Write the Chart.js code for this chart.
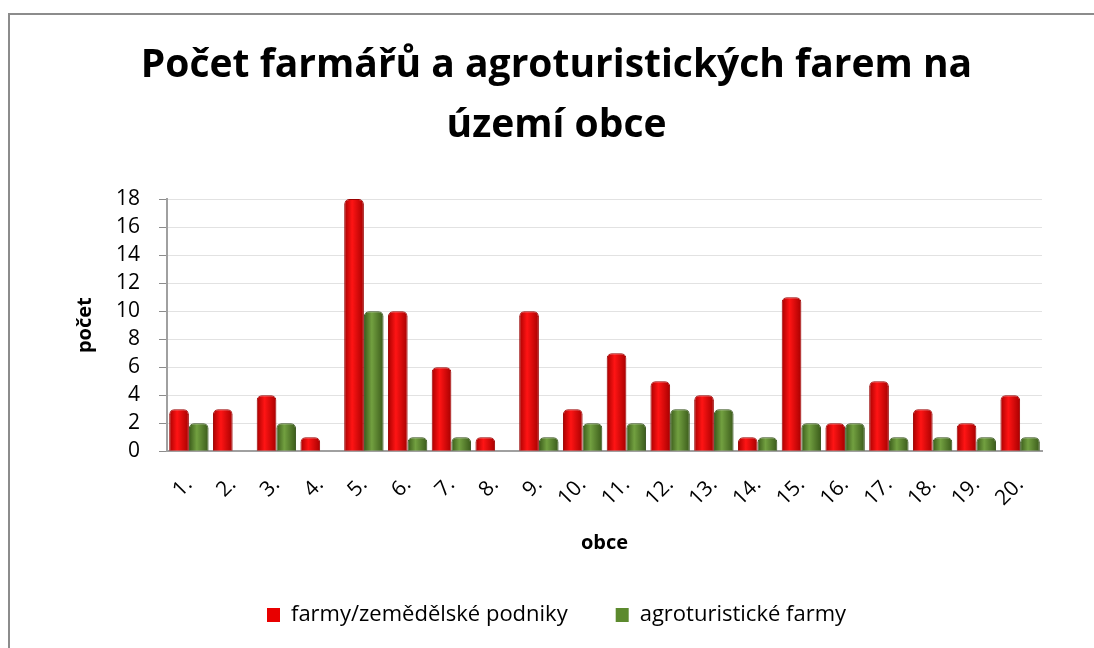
<!DOCTYPE html>
<html lang="cs">
<head>
<meta charset="UTF-8">
<title>Počet farmářů a agroturistických farem</title>
<style>
    html, body { margin: 0; background: #fff; overflow: hidden; }
    .box {
        position: absolute;
        left: 8px;
        top: 13px;
        width: 1200px;
        height: 700px;
        border-left: 2px solid #8c8c8c;
        border-top: 2px solid #8c8c8c;
        box-sizing: border-box;
    }
    .box canvas { display: block; }
</style>
</head>
<body>
<div class="box">
    <canvas id="chart" width="1084" height="633"></canvas>
</div>
<script src="https://cdn.jsdelivr.net/npm/chart.js@4"></script>
<script>
const obce = ['1.', '2.', '3.', '4.', '5.', '6.', '7.', '8.', '9.', '10.',
              '11.', '12.', '13.', '14.', '15.', '16.', '17.', '18.', '19.', '20.'];
const farmy = [3, 3, 4, 1, 18, 10, 6, 1, 10, 3, 7, 5, 4, 1, 11, 2, 5, 3, 2, 4];
const agroFarmy = [2, 0, 2, 0, 10, 1, 1, 0, 1, 2, 2, 3, 3, 1, 2, 2, 1, 1, 1, 1];
const yTicks = [0, 2, 4, 6, 8, 10, 12, 14, 16, 18];

const FONT = '"Open Sans", Lato, sans-serif';
const legendFill = ['#e80000', '#5c8a2e'];

// shaded fill so the bars look a bit like the cylinders in the original
function cylinder(dark, light) {
    return ctx => {
        const el = ctx.element;
        if (!el || !isFinite(el.x) || !el.width) return light;
        const g = ctx.chart.ctx.createLinearGradient(el.x - el.width / 2, 0, el.x + el.width / 2, 0);
        g.addColorStop(0, dark);
        g.addColorStop(0.4, light);
        g.addColorStop(1, dark);
        return g;
    };
}

const chart = new Chart(document.getElementById('chart'), {
    type: 'bar',
    data: {
        labels: obce,
        datasets: [
            {
                label: 'farmy/zemědělské podniky',
                data: farmy,
                backgroundColor: cylinder('#a80000', '#ff1414'),
                borderColor: '#9a0000',
                borderWidth: 1,
                borderRadius: { topLeft: 5, topRight: 5 },
                borderSkipped: 'bottom'
            },
            {
                label: 'agroturistické farmy',
                data: agroFarmy,
                backgroundColor: cylinder('#3a5a1a', '#72a040'),
                borderColor: '#34501a',
                borderWidth: 1,
                borderRadius: { topLeft: 5, topRight: 5 },
                borderSkipped: 'bottom'
            }
        ]
    },
    options: {
        responsive: false,
        animation: false,
        layout: { padding: { left: 61, right: 52, top: 10, bottom: 12 } },
        datasets: {
            bar: { categoryPercentage: 0.9, barPercentage: 1.0 }
        },
        plugins: {
            title: {
                display: true,
                text: ['Počet farmářů a agroturistických farem na', 'území obce'],
                color: '#000',
                font: { family: FONT, size: 39, weight: 'bold', lineHeight: 1.54 },
                padding: { top: 11, bottom: 43 }
            },
            legend: {
                position: 'bottom',
                labels: {
                    color: '#000',
                    font: { family: FONT, size: 22 },
                    boxWidth: 13,
                    boxHeight: 14,
                    padding: 48,
                    generateLabels: c => {
                        const items = Chart.defaults.plugins.legend.labels.generateLabels(c);
                        items.forEach((it, i) => {
                            it.fillStyle = legendFill[i];
                            it.lineWidth = 0;
                        });
                        return items;
                    }
                }
            },
            tooltip: { enabled: false }
        },
        scales: {
            x: {
                grid: { display: false },
                border: { color: '#a0a0a0', width: 2 },
                ticks: {
                    color: '#000',
                    font: { family: FONT, size: 21 },
                    autoSkip: false,
                    minRotation: 45,
                    maxRotation: 45,
                    padding: 13
                },
                title: {
                    display: true,
                    text: 'obce',
                    color: '#000',
                    font: { family: FONT, size: 20, weight: 'bold' },
                    padding: { top: 7, bottom: 1 }
                }
            },
            y: {
                min: 0,
                max: 18,
                afterBuildTicks: axis => { axis.ticks = yTicks.map(v => ({ value: v })); },
                grid: {
                    color: '#e2e2e2',
                    tickColor: '#8c8c8c',
                    tickLength: 8
                },
                border: { color: '#a0a0a0', width: 2 },
                ticks: {
                    color: '#000',
                    font: { family: FONT, size: 21 },
                    autoSkip: false,
                    padding: 19
                },
                title: {
                    display: true,
                    text: 'počet',
                    color: '#000',
                    font: { family: FONT, size: 20, weight: 'bold' },
                    padding: { top: 2, bottom: 0 }
                }
            }
        }
    }
});
// second pass so the gradients know where each bar sits
chart.update();
</script>
</body>
</html>
